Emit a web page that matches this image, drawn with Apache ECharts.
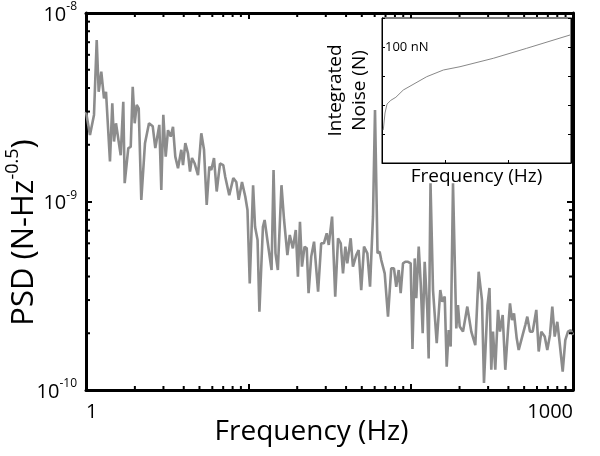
<!DOCTYPE html>
<html><head><meta charset="utf-8">
<script src="https://cdn.jsdelivr.net/npm/echarts@6/dist/echarts.min.js"></script>
<style>html,body{margin:0;padding:0;background:#fff}#c{width:600px;height:456px}</style>
</head><body><div id="c"></div>
<script>
// Main PSD trace: frequency (Hz) and PSD in units of 1e-10 N/sqrt(Hz)
const freq = [
1.00,1.058,1.12,1.164,1.197,1.242,1.291,1.328,1.405,1.452,
1.488,1.530,1.636,1.697,1.731,1.822,1.886,1.940,1.995,2.053,
2.112,2.191,2.309,2.444,2.576,2.673,2.829,2.910,2.994,3.097,
3.200,3.325,3.435,3.549,3.688,3.865,3.959,4.090,4.249,4.372,
4.498,4.673,4.898,5.131,5.333,5.541,5.749,5.914,6.145,6.384,
6.689,7.01,7.21,7.63,8.08,8.43,8.72,9.14,9.58,9.88,
10.2,10.7,11.0,11.4,11.7,12.3,12.6,13.1,13.9,14.3,
14.7,15.2,16.0,16.6,17.4,18.0,18.8,19.6,20.2,20.8,
21.4,22.2,22.9,23.5,24.4,25.4,26.9,28.1,29.2,30.4,
31.3,32.8,34.3,35.7,37.1,38.3,39.6,40.7,42.7,44.1,
46.2,47.8,49.6,51.6,54.1,56.2,58.6,60.3,62.5,64.4,
65.9,69.2,72.5,75.9,78.9,81.5,84.4,86.8,89.7,92.7,
96.3,100,102.6,105.9,108.3,112.1,115.3,118.6,122.0,126.6,
129.1,132.5,137.3,144.7,152.2,156.6,162.1,166.7,171.5,176.4,
182.3,191.0,195.6,200.5,210.1,223.3,236.3,250.1,262.4,275.0,
282.9,297.3,305.9,313.8,321.5,332.1,345.2,354.9,368.8,382.7,
397.7,409.2,421.0,433.1,450.0,462.9,489.8,508.2,522.9,543.3,
564.6,594.2,614.8,637.9,669.4,694.5,721.5,745.5,771.4,800.4,
827.9,864.0,896.5,931.4,967.8,1000
];
const psd = [
29.9,22.5,28.8,71.9,38.2,48.8,35.3,38.2,16.3,33.2,
20.8,26.0,17.6,33.8,12.5,19.2,19.5,40.6,26.0,32.5,
31.2,10.2,20.4,26.0,25.1,19.2,25.5,11.5,28.8,17.3,
23.9,22.1,24.9,17.3,15.0,18.8,15.6,20.4,18.0,14.4,
17.0,15.9,13.8,23.0,18.8,9.58,15.3,14.7,17.0,11.3,
15.9,15.6,13.5,10.8,13.3,12.7,10.2,12.7,10.6,9.02,
3.68,12.2,7.35,6.25,2.60,7.35,7.98,6.25,4.33,14.7,
5.31,4.33,12.2,7.98,5.20,6.64,5.64,7.06,3.99,7.81,
4.51,5.76,5.64,3.26,5.10,6.12,3.32,6.00,6.00,6.78,
5.88,8.31,3.13,6.38,6.00,4.16,5.76,4.70,6.38,4.51,
5.20,5.53,3.39,5.76,5.31,3.53,8.31,30.6,5.31,5.42,
4.89,4.16,2.45,4.42,4.42,3.53,4.33,3.26,4.70,4.79,
4.79,4.70,1.65,4.99,3.07,5.76,3.68,2.00,4.79,2.66,
1.47,12.5,3.39,1.77,3.39,2.94,3.13,1.33,2.08,1.70,
12.5,2.12,2.82,2.17,2.04,2.77,2.04,1.73,4.24,3.00,
1.09,2.82,3.48,1.28,2.04,1.28,2.66,2.04,2.50,1.28,
2.08,2.88,2.35,2.55,1.88,1.63,1.96,2.21,2.45,2.04,
2.04,2.66,1.60,2.04,1.92,1.63,1.96,2.77,1.92,2.30,
1.77,1.25,1.84,2.04,2.08,1.96
];
const PSD_UNIT = 1e-10;

// Inset: integrated noise (nN) vs frequency (Hz)
const insetFreq  = [10,24,40,70,110,169,355,487,619,883,1148,1492];
const insetNoise = [0.137,0.53,1.08,1.45,1.85,3.29,9.46,16.1,20.9,40.7,90.2,259];

// Tick labels
const xTickLabels = {0:'1', 3:'1000'};
const insetLabel = '100 nN';
const xMinorTicks = [2,3,4,5,6,7,8,9,20,30,40,50,60,70,80,90,200,300,400,500,600,700,800,900];
const yMinorTicks = [2e-10,3e-10,4e-10,5e-10,6e-10,7e-10,8e-10,9e-10,2e-9,3e-9,4e-9,5e-9,6e-9,7e-9,8e-9,9e-9];

const FONT = 'Open Sans';
const chart = echarts.init(document.getElementById('c'), null, {renderer:'canvas'});

const mainLine = freq.map((f,i)=>[f, psd[i]*PSD_UNIT]);
const insetLine = insetFreq.map((f,i)=>[f, insetNoise[i]]);

const boxAxisLine = {lineStyle:{color:'#000', width:3}};
const majorTick = {inside:true, length:6, lineStyle:{color:'#000', width:2}};

const option = {
  animation:false,
  backgroundColor:'#fff',
  textStyle:{fontFamily:FONT, color:'#000'},
  grid:[
    {left:86, top:13, width:487, height:377, containLabel:false, outerBoundsMode:'none'},
    {left:382, top:18, width:189, height:145, containLabel:false, outerBoundsMode:'none',
     show:true, backgroundColor:'#fff', borderColor:'#000', borderWidth:1, z:5}
  ],
  xAxis:[
    {type:'log', gridIndex:0, logBase:10, min:1, max:1000, position:'bottom',
     axisLine:boxAxisLine, axisTick:majorTick, splitLine:{show:false},
     axisLabel:{color:'#000', fontSize:20, margin:12, showMinLabel:true, showMaxLabel:true,
       alignMinLabel:'left', alignMaxLabel:'right',
       formatter:v=>{const e=Math.round(Math.log10(v)); return xTickLabels[e]||'';}},
     name:'Frequency (Hz)', nameLocation:'middle', nameGap:28, nameMoveOverlap:false,
     nameTextStyle:{fontSize:28, color:'#000', padding:[0,36,0,0]}},
    {type:'log', gridIndex:0, logBase:10, min:1, max:1000, position:'top',
     axisLine:boxAxisLine, axisTick:majorTick, splitLine:{show:false}, axisLabel:{show:false}},
    {type:'value', gridIndex:1, min:0, max:1500, interval:500, position:'bottom',
     axisLine:{lineStyle:{color:'#000', width:1}}, axisTick:{inside:true, length:3, lineStyle:{color:'#000'}},
     splitLine:{show:false}, axisLabel:{show:false},
     name:'Frequency (Hz)', nameLocation:'middle', nameGap:4, nameMoveOverlap:false,
     nameTextStyle:{fontSize:19, color:'#000', verticalAlign:'top'}, z:6}
  ],
  yAxis:[
    {type:'log', gridIndex:0, logBase:10, min:1e-10, max:1e-8, position:'left',
     axisLine:boxAxisLine, axisTick:majorTick, splitLine:{show:false},
     axisLabel:{margin:9, color:'#000',
       formatter:v=>'{b|10}{s|'+Math.round(Math.log10(v))+'}',
       rich:{b:{fontSize:20, lineHeight:24, color:'#000', fontFamily:FONT, verticalAlign:'bottom'},
             s:{fontSize:12, lineHeight:24, color:'#000', fontFamily:FONT, verticalAlign:'top'}}},
     name:'{a|PSD (N-Hz}{s|-0.5}{a|)}', nameLocation:'middle', nameGap:46, nameMoveOverlap:false,
     nameTextStyle:{padding:[0,62,0,0],
       rich:{a:{fontSize:31, lineHeight:36, color:'#000', fontFamily:FONT, verticalAlign:'bottom'},
             s:{fontSize:18, lineHeight:36, color:'#000', fontFamily:FONT, verticalAlign:'top'}}}},
    {type:'log', gridIndex:0, logBase:10, min:1e-10, max:1e-8, position:'right',
     axisLine:boxAxisLine, axisTick:majorTick, splitLine:{show:false}, axisLabel:{show:false}},
    {type:'log', gridIndex:1, logBase:10, min:0.01, max:1000, position:'left',
     axisLine:{lineStyle:{color:'#000', width:1}}, axisTick:{inside:true, length:3, lineStyle:{color:'#000'}},
     splitLine:{show:false},
     axisLabel:{inside:true, margin:3, fontSize:13, color:'#000',
       formatter:v=>Math.round(Math.log10(v))===2?insetLabel:''},
     name:'Integrated\nNoise (N)', nameLocation:'middle', nameGap:10, nameMoveOverlap:false,
     nameTextStyle:{fontSize:19, lineHeight:24, color:'#000', align:'center'}, z:6},
    {type:'log', gridIndex:1, logBase:10, min:0.01, max:1000, position:'right',
     axisLine:{lineStyle:{color:'#000', width:1}}, axisTick:{inside:true, length:3, lineStyle:{color:'#000'}},
     splitLine:{show:false}, axisLabel:{show:false}, z:6}
  ],
  series:[
    {type:'line', xAxisIndex:0, yAxisIndex:0, data:mainLine, showSymbol:false, symbol:'none',
     lineStyle:{color:'#8c8c8c', width:2.6}, z:3},
    {type:'line', xAxisIndex:2, yAxisIndex:2, data:insetLine, showSymbol:false, symbol:'none',
     lineStyle:{color:'#888', width:1}, z:7},
    {type:'custom', xAxisIndex:0, yAxisIndex:0, data:xMinorTicks.map(v=>[v,1e-9]), z:4,
     renderItem:(params, api)=>{
       const cs = params.coordSys; const p = api.coord([api.value(0), api.value(1)]);
       const b = cs.y+cs.height, t = cs.y;
       return {type:'group', children:[
         {type:'line', shape:{x1:p[0], y1:b, x2:p[0], y2:b-4}, style:{stroke:'#000', lineWidth:2}},
         {type:'line', shape:{x1:p[0], y1:t, x2:p[0], y2:t+4}, style:{stroke:'#000', lineWidth:2}}
       ]};
     }},
    {type:'custom', xAxisIndex:0, yAxisIndex:0, data:yMinorTicks.map(v=>[10,v]), z:4,
     renderItem:(params, api)=>{
       const cs = params.coordSys; const p = api.coord([api.value(0), api.value(1)]);
       const l = cs.x, r = cs.x+cs.width;
       return {type:'group', children:[
         {type:'line', shape:{x1:l, y1:p[1], x2:l+4, y2:p[1]}, style:{stroke:'#000', lineWidth:2}},
         {type:'line', shape:{x1:r, y1:p[1], x2:r-4, y2:p[1]}, style:{stroke:'#000', lineWidth:2}}
       ]};
     }}
  ]
};
chart.setOption(option);
</script></body></html>
